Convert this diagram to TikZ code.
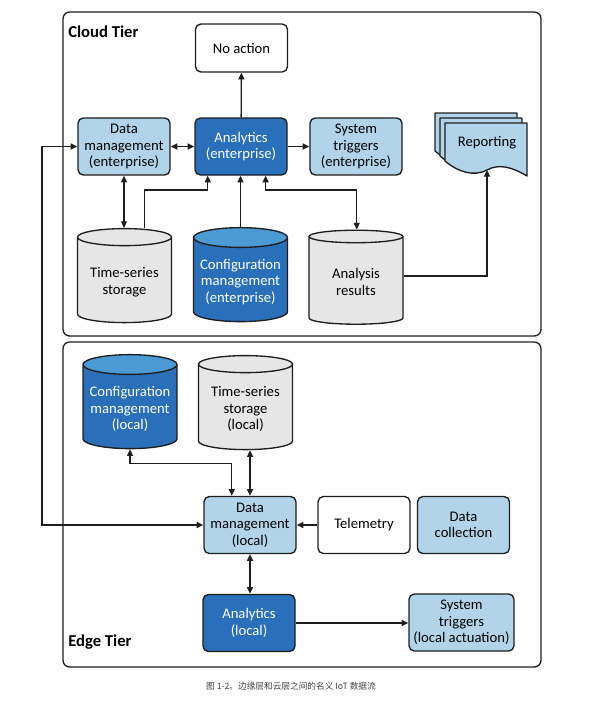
\documentclass[tikz,border=0pt]{standalone}
\usepackage{fontspec}
\setmainfont{Carlito}
\newfontfamily\cjkfont{Noto Sans CJK SC}
\usetikzlibrary{arrows.meta,shapes.geometric}
\definecolor{lightblue}{HTML}{B2D4EB}
\definecolor{darkblue}{HTML}{2A6FBA}
\definecolor{midblue}{HTML}{4C9AD3}
\definecolor{drumgrey}{HTML}{E6E6E6}
\definecolor{ink}{HTML}{1E1E1E}
\tikzset{
	tier/.style={draw=ink,line width=1pt,rounded corners=5pt},
	tierlabel/.style={anchor=west,inner sep=0pt,font=\fontsize{12.5}{14}\selectfont\bfseries},
	box/.style={draw=ink,line width=1pt,rounded corners=4pt,align=center,minimum width=69pt,minimum height=42.75pt,inner sep=2pt,font=\fontsize{11}{12.5}\selectfont},
	lightbox/.style={box,fill=lightblue},
	darkbox/.style={box,fill=darkblue,text=white},
	plainbox/.style={box,fill=white},
	drum/.style={cylinder,shape border rotate=90,aspect=0.22,draw=ink,line width=1pt,minimum width=70.5pt,minimum height=70.5pt,cylinder uses custom fill,align=center,font=\fontsize{11}{12.5}\selectfont},
	greydrum/.style={drum,cylinder body fill=drumgrey,cylinder end fill=drumgrey},
	bluedrum/.style={drum,cylinder body fill=darkblue,cylinder end fill=midblue,text=white},
	link/.style={line width=1pt,draw=ink},
	sheet/.style={draw=ink,line width=1pt,fill=lightblue,line join=round},
}
\begin{document}
\begin{tikzpicture}[x=0.75pt,y=-0.75pt,>={Triangle[length=5pt,width=4.5pt]}]
			\useasboundingbox (0,0) rectangle (604,718);
			% tiers
			\draw[tier] (63,12) rectangle (541,336);
			\draw[tier] (63,342) rectangle (541,667);
			\node[tierlabel] (cloud) at (68,32) {Cloud Tier};
			\node[tierlabel] (edge) at (68,642) {Edge Tier};
			% cloud tier
			\node[plainbox,minimum height=36pt] (noact) at (241.5,48) {No action};
			\node[lightbox] (dmE) at (124,146.5) {Data\\management\\(enterprise)};
			\node[darkbox] (anE) at (241,146.5) {Analytics\\(enterprise)};
			\node[lightbox] (stE) at (356,146.5) {System\\triggers\\(enterprise)};
			\node[greydrum] (tsE) at (124.5,282) {Time-series\\storage};
			\node[bluedrum] (cmE) at (240.5,282) {Configuration\\management\\(enterprise)};
			\node[greydrum] (arE) at (356,282) {Analysis\\results};
			\foreach \d in {10,5,0}
				\draw[sheet,shift={(-\d,-\d)}] (445,123) -- (527,123) -- (527,176) .. controls (510,166) and (498,164) .. (487,170) .. controls (474,177) and (458,172) .. (445,161) -- cycle;
			\node[font=\fontsize{11}{12.5}\selectfont] (rep) at (487,143) {Reporting};
			\coordinate (repB) at (487,170);
			\coordinate (bendA) at (207.7,190);
			\coordinate (bendB) at (356.7,190);
			\draw[link,->] (anE) -- (noact);
			\draw[link,<->] (dmE) -- (anE);
			\draw[link,->] (anE) -- (stE);
			\draw[link,<->] (dmE.south) -- (dmE.south |- tsE.north);
			\draw[link,->] ([xshift=15pt]tsE.north) |- (bendA) -- (bendA |- anE.south);
			\draw[link,->] (cmE.north) -- (cmE.north |- anE.south);
			\draw[link,<->] ([xshift=18.5pt]anE.south) |- (bendB) -- (bendB |- arE.north);
			\draw[link,->] ([yshift=4.5pt]arE.east) -| (repB);
			% edge tier
			\node[bluedrum] (cmL) at (130,409) {Configuration\\management\\(local)};
			\node[greydrum] (tsL) at (245.5,409) {Time-series\\storage\\(local)};
			\node[lightbox] (dmL) at (250,525) {Data\\management\\(local)};
			\node[plainbox] (tel) at (364,525) {Telemetry};
			\node[lightbox] (dc) at (463.5,525) {Data\\collection};
			\node[darkbox] (anL) at (249,623) {Analytics\\(local)};
			\node[lightbox,minimum width=78.75pt] (stL) at (461.5,622.5) {System\\triggers\\(local actuation)};
			\coordinate (bendC) at (42,340);
			\coordinate (bendD) at (231.7,463.3);
			\draw[link,<->] ([xshift=-13.7pt]dmL.north) |- (bendD) -| (cmL.south);
			\draw[link,<->] (dmL.north) -- (dmL.north |- tsL.south);
			\draw[link,->] (tel) -- (dmL);
			\draw[link,<->] (dmL.south) -- (dmL.south |- anL.north);
			\draw[link,->] (anL) -- (anL -| stL.west);
			\draw[link,<->] (dmL.west) -| (bendC) |- (dmE.west);
			% caption
			\node[font=\cjkfont\fontsize{6.5}{8}\selectfont,text=black!75] (cap) at (291,686) {图 1-2。边缘层和云层之间的名义 IoT 数据流};
		\end{tikzpicture}
\end{document}
